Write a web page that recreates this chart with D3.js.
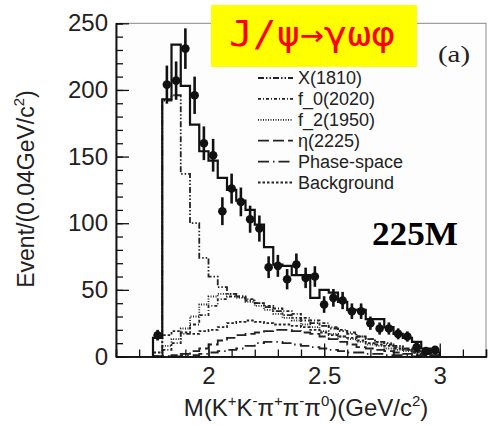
<!DOCTYPE html>
<html>
<head>
<meta charset="utf-8">
<script src="https://cdn.jsdelivr.net/npm/d3@7"></script>
<style>
  html, body { margin: 0; padding: 0; background: #fff; }
  svg text { font-family: 'Liberation Sans', Arial, sans-serif; fill: #222; }
</style>
</head>
<body>
<div id="app"></div>
<script>
// bin centres (GeV/c^2), 0.04 GeV wide
const massBins = [1.78, 1.82, 1.86, 1.90, 1.94, 1.98, 2.02, 2.06, 2.10, 2.14, 2.18, 2.22, 2.26, 2.30, 2.34, 2.38,
  2.42, 2.46, 2.50, 2.54, 2.58, 2.62, 2.66, 2.70, 2.74, 2.78, 2.82, 2.86, 2.90, 2.94, 2.98]

const dataEvents = [16, 204, 207, 231, 196, 160, 151, 109, 126, 116, 103, 96, 67, 68, 58, 69,
  59, 60, 39, 44, 42, 34, 34, 25, 21, 21, 17, 15, 7, 4, 5]

const totalFit = [14, 193, 234, 203, 174, 154, 147, 134, 125, 117, 110, 99, 82, 69, 68, 61,
  61, 44, 50, 48, 41, 35, 35, 28, 28, 22, 17, 14, 11, 6, 3]

const x1810 = [0, 192, 196, 137, 100, 74, 60, 52, 47, 45, 42, 40, 37, 34, 31, 29,
  27, 25, 23, 21, 19, 17, 15, 13, 11, 10, 8, 6, 4, 2, 1]
const f02020 = [0, 5, 10, 17, 24, 31, 38, 43, 45, 45, 43, 40, 38, 36, 34, 32,
  29, 27, 25, 22, 20, 18, 15, 13, 11, 9, 7, 5, 3, 2, 1]
const f21950 = [0, 8, 13, 21, 30, 39, 45, 47, 47, 44, 41, 38, 35, 32, 29, 27,
  24, 22, 19, 17, 15, 13, 11, 9, 8, 6, 5, 4, 3, 2, 1]
const eta2225 = [0, 0, 1, 2, 4, 6, 9, 12, 14, 16, 17, 18, 19, 20, 20, 19,
  18, 17, 15, 13, 11, 9, 7, 6, 5, 4, 3, 2, 1, 1, 0]
const phaseSpace = [0, 0, 0, 1, 1, 2, 3, 4, 5, 6, 8, 10, 11, 11, 10, 9,
  8, 7, 6, 5, 4, 3, 3, 2, 2, 1, 1, 1, 0, 0, 0]
const background = [3, 16, 19, 18, 17, 19, 20, 22, 25, 26, 27, 26, 25, 24, 24, 23,
  22, 20, 18, 16, 15, 14, 12, 10, 9, 8, 6, 5, 4, 2, 1]

const legendLabels = ['X(1810)', 'f_0(2020)', 'f_2(1950)', 'η(2225)', 'Phase-space', 'Background']
const yTicks = [0, 50, 100, 150, 200, 250]
const xTicks = [2, 2.5, 3]

const components = [
  { name: legendLabels[0], values: x1810, dash: '6,2,1.5,2,1.5,2' },
  { name: legendLabels[1], values: f02020, dash: '3,2,1,2' },
  { name: legendLabels[2], values: f21950, dash: '1,1.5' },
  { name: legendLabels[3], values: eta2225, dash: '11,4' },
  { name: legendLabels[4], values: phaseSpace, dash: '11,4,1.5,4' },
  { name: legendLabels[5], values: background, dash: '2.5,2' },
]

const W = 489, H = 425
const binW = 0.04

const svg = d3.select('#app').append('svg')
  .attr('width', W).attr('height', H)

const x = d3.scaleLinear().domain([1.6, 3.2]).range([116, 486])
const y = d3.scaleLinear().domain([0, 250]).range([356.5, 23.3])

// step path through bin edges
const stepLine = d3.line()
  .x(d => x(d[0]))
  .y(d => y(d[1]))
  .curve(d3.curveStepAfter)

function stepPoints(vals) {
  const pts = [[massBins[0] - binW / 2, 0]]
  vals.forEach((v, i) => pts.push([massBins[i] - binW / 2, v]))
  pts.push([massBins[massBins.length - 1] + binW / 2, 0])
  return pts
}

// Frame
svg.append('rect')
  .attr('x', x(1.6)).attr('y', y(250))
  .attr('width', x(3.2) - x(1.6)).attr('height', y(0) - y(250))
  .attr('fill', '#fdfdfd').attr('stroke', '#888').attr('stroke-width', 1)

// Components
svg.append('g').selectAll('path')
  .data(components)
  .join('path')
  .attr('d', d => stepLine(stepPoints(d.values)))
  .attr('fill', 'none')
  .attr('stroke', '#222')
  .attr('stroke-width', 1.8)
  .attr('stroke-dasharray', d => d.dash)

// Total fit
svg.append('path')
  .attr('d', stepLine(stepPoints(totalFit)))
  .attr('fill', 'none')
  .attr('stroke', '#111')
  .attr('stroke-width', 2.2)

// Data points with sqrt(N) errors
const pts = svg.append('g')
pts.selectAll('line')
  .data(dataEvents)
  .join('line')
  .attr('x1', (d, i) => x(massBins[i]))
  .attr('x2', (d, i) => x(massBins[i]))
  .attr('y1', d => y(d + Math.sqrt(d)))
  .attr('y2', d => y(Math.max(0, d - Math.sqrt(d))))
  .attr('stroke', '#111')
  .attr('stroke-width', 2.6)
pts.selectAll('circle')
  .data(dataEvents)
  .join('circle')
  .attr('cx', (d, i) => x(massBins[i]))
  .attr('cy', d => y(d))
  .attr('r', 4.3)
  .attr('fill', '#111')

// Y axis
const yAxis = svg.append('g').attr('transform', `translate(${x(1.6)},0)`)
yAxis.call(d3.axisLeft(y).tickValues(yTicks).tickSizeInner(-13).tickSizeOuter(0).tickPadding(8))
yAxis.call(g => g.append('g').call(d3.axisLeft(y).tickValues(d3.range(0, 251, 10)).tickSize(-7).tickFormat('')))
yAxis.selectAll('text').attr('font-size', 24).attr('fill', '#222').style('font-family', "'Liberation Sans', Arial, sans-serif")
yAxis.selectAll('line').attr('stroke', '#111').attr('stroke-width', 1.3)
yAxis.selectAll('path.domain').attr('stroke', '#111').attr('stroke-width', 1.5)

// X axis
const xAxis = svg.append('g').attr('transform', `translate(0,${y(0)})`)
xAxis.call(d3.axisBottom(x).tickValues(xTicks).tickFormat(d3.format('')).tickSizeInner(-13).tickSizeOuter(0).tickPadding(10))
xAxis.call(g => g.append('g').call(d3.axisBottom(x).tickValues(d3.range(1.6, 3.21, 0.1)).tickSize(-7).tickFormat('')))
xAxis.selectAll('text').attr('font-size', 24).attr('fill', '#222').style('font-family', "'Liberation Sans', Arial, sans-serif")
xAxis.selectAll('line').attr('stroke', '#111').attr('stroke-width', 1.3)
xAxis.selectAll('path.domain').attr('stroke', '#111').attr('stroke-width', 1.5)

// Axis labels
const xl = svg.append('text')
  .attr('x', 306).attr('y', 416)
  .attr('text-anchor', 'middle')
  .attr('font-size', 24)
xl.append('tspan').text('M(K')
xl.append('tspan').attr('font-size', 15).attr('dy', -10).text('+')
xl.append('tspan').attr('dy', 10).text('K')
xl.append('tspan').attr('font-size', 15).attr('dy', -10).text('-')
xl.append('tspan').attr('dy', 10).text('π')
xl.append('tspan').attr('font-size', 15).attr('dy', -10).text('+')
xl.append('tspan').attr('dy', 10).text('π')
xl.append('tspan').attr('font-size', 15).attr('dy', -10).text('-')
xl.append('tspan').attr('dy', 10).text('π')
xl.append('tspan').attr('font-size', 15).attr('dy', -10).text('0')
xl.append('tspan').attr('dy', 10).text(')(GeV/c')
xl.append('tspan').attr('font-size', 15).attr('dy', -10).text('2')
xl.append('tspan').attr('dy', 10).text(')')

const yl = svg.append('text')
  .attr('transform', 'translate(34,189) rotate(-90)')
  .attr('text-anchor', 'middle')
  .attr('font-size', 23)
yl.append('tspan').text('Event/(0.04GeV/c')
yl.append('tspan').attr('font-size', 15).attr('dy', -10).text('2')
yl.append('tspan').attr('dy', 10).text(')')

// Legend
const lg = svg.append('g').selectAll('g')
  .data(components)
  .join('g')
  .attr('transform', (d, i) => `translate(258,${78 + i * 20.9})`)
lg.append('line')
  .attr('x1', 0).attr('x2', 35)
  .attr('stroke', '#222').attr('stroke-width', 1.8)
  .attr('stroke-dasharray', d => d.dash)
lg.append('text')
  .attr('x', 40).attr('dy', '0.35em')
  .attr('font-size', 18)
  .text(d => d.name)

// Panel tag
svg.append('text')
  .attr('x', 438).attr('y', 62)
  .attr('font-size', 24)
  .attr('textLength', 32)
  .attr('lengthAdjust', 'spacingAndGlyphs')
  .style('font-family', "'Liberation Serif', 'DejaVu Serif', serif")
  .text('(a)')

// 225M
svg.append('text')
  .attr('x', 372).attr('y', 245)
  .attr('font-size', 33)
  .attr('font-weight', 'bold')
  .attr('textLength', 86)
  .attr('lengthAdjust', 'spacingAndGlyphs')
  .style('font-family', "'Liberation Serif', serif")
  .style('fill', '#000')
  .text('225M')

// Title box
svg.append('rect')
  .attr('x', 211).attr('y', 5)
  .attr('width', 206).attr('height', 62)
  .attr('fill', '#ffff00')
svg.append('text')
  .attr('x', 229).attr('y', 46)
  .attr('font-size', 36)
  .attr('textLength', 166)
  .attr('lengthAdjust', 'spacingAndGlyphs')
  .style('font-family', "'DejaVu Sans Mono', monospace")
  .style('fill', '#ff0000')
  .text('J/ψ→γωφ')
</script>
</body>
</html>
